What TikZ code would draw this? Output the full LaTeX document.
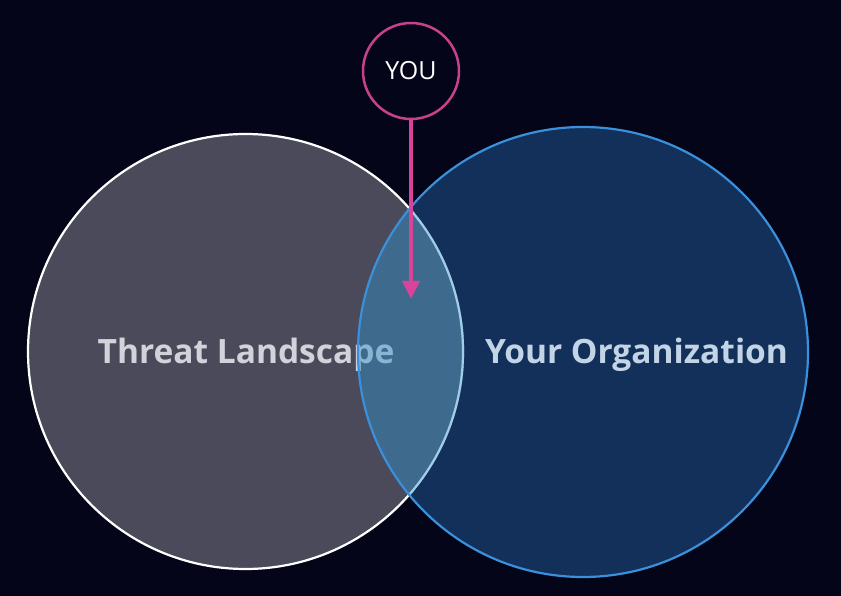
\documentclass[tikz,border=0pt]{standalone}
\usepackage{fontspec}
\setmainfont{Open Sans}
\usetikzlibrary{arrows.meta}
\definecolor{bg}{HTML}{05051A}
\definecolor{leftfill}{HTML}{4A4A5A}
\definecolor{rightfill}{HTML}{12305A}
\definecolor{rightline}{HTML}{3A90DA}
\definecolor{ovcolor}{HTML}{3192CE}
\definecolor{pinkline}{HTML}{C8418A}
\definecolor{pinkarrow}{HTML}{D8449A}
\definecolor{lefttext}{HTML}{D2D2DA}
\definecolor{righttext}{HTML}{C2D4E6}
\tikzset{
  setcircle/.style={circle, inner sep=0pt},
  bigtext/.style={font=\fontsize{33.5}{38}\selectfont\bfseries},
}
\begin{document}
\begin{tikzpicture}[x=1pt,y=-1pt]
\fill[bg] (0,0) rectangle (841,596);
\useasboundingbox (0,0) rectangle (841,596);
% right fill
\fill[rightfill] (583,352) circle[radius=225];
% left circle
\fill[leftfill] (245.5,351.5) circle[radius=217.5];
\draw[white, line width=2.2pt] (245.5,351.5) circle[radius=217.5];
\node[bigtext, text=lefttext] (threat) at (246,355) {Threat Landscape};
% intersection overlay
\begin{scope}
  \clip (583,352) circle[radius=225];
  \fill[ovcolor, fill opacity=0.45] (245.5,351.5) circle[radius=218.7];
\end{scope}
\node[setcircle, minimum size=450pt, draw=rightline, line width=2.2pt] (org) at (583,352) {};
\node[bigtext, text=righttext] (orgtext) at (636.5,355) {Your Organization};
% YOU
\node[setcircle, minimum size=96pt, draw=pinkline, line width=2.5pt, text=white, font=\fontsize{25}{30}\selectfont] (you) at (411,71) {YOU};
\coordinate (tip) at (411,299);
\draw[pinkarrow, line width=4pt, -{Triangle[length=18pt,width=17pt]}] (you.south) -- (tip);
\end{tikzpicture}
\end{document}
